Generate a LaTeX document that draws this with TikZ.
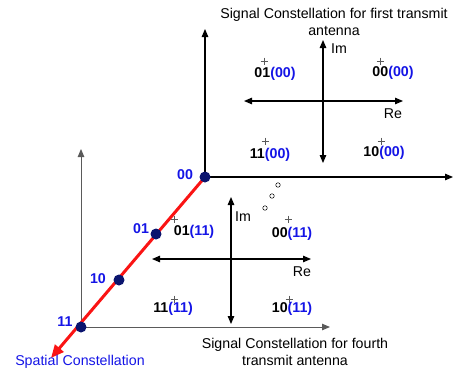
\documentclass[tikz,border=0pt]{standalone}
\usepackage{fontspec}
\setmainfont{Liberation Sans}
\usetikzlibrary{arrows.meta}
\definecolor{lblue}{RGB}{20,20,230}
\definecolor{navy}{RGB}{10,20,110}
\definecolor{redl}{RGB}{250,20,20}
\definecolor{axgray}{RGB}{90,90,90}
\begin{document}
\begin{tikzpicture}[x=1pt,y=-1pt,
  txt/.style={font=\fontsize{14.2}{17}\selectfont, inner sep=0pt, align=center},
  bl/.style={font=\fontsize{14.2}{17}\selectfont\bfseries, inner sep=0pt},
  axis/.style={line width=1.1pt, -{Triangle[length=8pt,width=6.5pt]}},
  daxis/.style={line width=1.1pt, {Triangle[length=8pt,width=6.5pt]}-{Triangle[length=8pt,width=6.5pt]}},
  dot/.style={circle, fill=navy, minimum size=11pt, inner sep=0pt},
  ring/.style={circle, draw=black, line width=0.5pt, minimum size=4.5pt, inner sep=0pt},
  plusmark/.pic={\draw[axgray, line width=0.5pt] (-3.5,0)--(3.5,0) (0,-3.5)--(0,3.5);}]
\useasboundingbox (0,0) rectangle (454,376);

% main axes
\coordinate (oA) at (205,177);
\coordinate (oAx) at (453,177);
\coordinate (oAy) at (205,29);
\coordinate (oB) at (81,327);
\coordinate (oBx) at (330,327);
\coordinate (oBy) at (81,149);
\draw[axis] (oA) -- (oAx);
\draw[axis] (oA) -- (oAy);
\draw[axis, axgray, line width=1pt] (oB) -- (oBx);
\draw[axis, axgray, line width=1pt] (oB) -- (oBy);

% spatial constellation line
\coordinate (tip) at (51,358);
\draw[redl, line width=3pt, -{Triangle[length=13pt,width=11pt]}] (oA) -- (tip);
\node[dot] (d00) at (oA) {};
\node[dot] (d01) at (156,234) {};
\node[dot] (d10) at (119,280) {};
\node[dot] (d11) at (oB) {};
\node[bl, text=lblue] (l00) at (185,175) {00};
\node[bl, text=lblue] (l01) at (141,229) {01};
\node[bl, text=lblue] (l10) at (98,279) {10};
\node[bl, text=lblue] (l11) at (65,322) {11};
\node[txt, text=lblue] (sc) at (80,362) {Spatial Constellation};

% upper constellation
\coordinate (uT) at (323,40);
\coordinate (uB) at (323,163);
\coordinate (uL) at (244,101);
\coordinate (uR) at (403,101);
\draw[daxis] (uT) -- (uB);
\draw[daxis] (uL) -- (uR);
\node[txt] (uim) at (339,49) {Im};
\node[txt] (ure) at (393,114) {Re};
\pic at (264,61) {plusmark};
\pic at (380,61) {plusmark};
\pic at (265,141) {plusmark};
\pic at (381,141) {plusmark};
\node[bl] (u01) at (275,74) {01\textcolor{lblue}{(00)}};
\node[bl] (u00) at (393,73) {00\textcolor{lblue}{(00)}};
\node[bl] (u11) at (270,155) {11\textcolor{lblue}{(00)}};
\node[bl] (u10) at (384,153) {10\textcolor{lblue}{(00)}};
\node[txt] (utitle) at (334,22) {Signal Constellation for first transmit\\antenna};

% lower constellation
\coordinate (lT) at (231,197);
\coordinate (lB) at (231,324);
\coordinate (lL) at (152,259);
\coordinate (lR) at (311,259);
\draw[daxis] (lT) -- (lB);
\draw[daxis] (lL) -- (lR);
\node[txt] (lim) at (243,217) {Im};
\node[txt] (lre) at (302,272) {Re};
\pic at (174,219) {plusmark};
\pic at (288,219) {plusmark};
\pic at (174,299) {plusmark};
\pic at (289,299) {plusmark};
\node[bl] (b01) at (194,232) {01\textcolor{lblue}{(11)}};
\node[bl] (b00) at (292,234) {00\textcolor{lblue}{(11)}};
\node[bl] (b11) at (173,309) {11\textcolor{lblue}{(11)}};
\node[bl] (b10) at (292,309) {10\textcolor{lblue}{(11)}};
\node[txt] (ltitle) at (295,352) {Signal Constellation for fourth\\transmit antenna};

% ellipsis circles
\node[ring] (c1) at (265,208) {};
\node[ring] (c2) at (272,196) {};
\node[ring] (c3) at (278,185) {};
\end{tikzpicture}
\end{document}
